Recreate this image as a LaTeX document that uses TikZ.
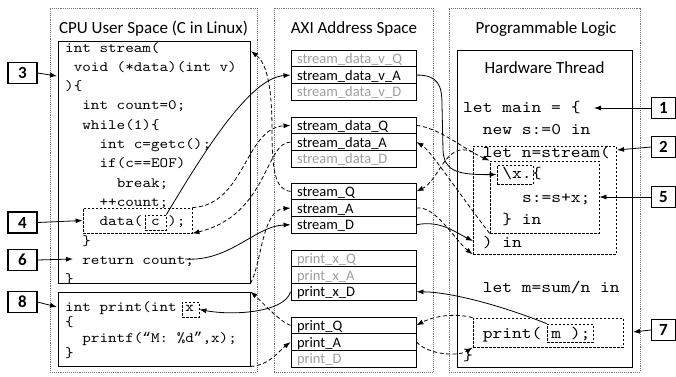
\documentclass[tikz,border=0pt]{standalone}
\usepackage{fontspec}
\setmainfont{Carlito}
\setsansfont{Carlito}
\setmonofont{lmmono10-regular.otf}[FakeStretch=1.143]
\newfontfamily\quotefont{Liberation Mono}
\usetikzlibrary{arrows.meta}
\definecolor{txtgray}{gray}{0.62}
\definecolor{framegray}{gray}{0.45}
\begin{document}
\begin{tikzpicture}[x=1pt,y=-1pt,
  panel/.style={draw=framegray, densely dotted, line width=0.9pt, inner sep=0pt, minimum height=364pt},
  solidbox/.style={draw, line width=1pt, inner sep=0pt},
  dbox/.style={draw, dash pattern=on 2.5pt off 1.5pt, line width=0.8pt, inner sep=0pt},
  row/.style={draw, line width=0.9pt, minimum width=125pt, minimum height=16.7pt, text width=113pt,
              inner xsep=6pt, inner ysep=0pt, text height=13pt, text depth=3pt, align=left,
              font=\fontsize{14.5}{16}\selectfont},
  grayrow/.style={row, text=txtgray},
  code/.style={font=\ttfamily\fontsize{14.3}{17}\selectfont, inner sep=0pt, anchor=base west},
  hcode/.style={font=\ttfamily\fontsize{16.3}{19}\selectfont, inner sep=0pt, anchor=base west},
  title/.style={font=\fontsize{17}{20}\selectfont, anchor=base, inner sep=0pt},
  numbox/.style={draw, line width=1.1pt, minimum height=21pt, inner sep=0pt,
                 font=\bfseries\fontsize{17}{20}\selectfont},
  conn/.style={line width=0.8pt, -{Latex[length=7pt,width=5pt]}},
  dconn/.style={conn, dash pattern=on 4pt off 2.5pt}
]
\useasboundingbox (0,0) rectangle (676,376);

% panels
\node[panel, minimum width=207pt] (cpu) at (153.5,190) {};
\node[panel, minimum width=159pt] (axi) at (353.5,190) {};
\node[panel, minimum width=191pt] (pl) at (544.5,190) {};
\node[title] (cputitle) at (153.5,33) {CPU User Space (C in Linux)};
\node[title] (axititle) at (354,33) {AXI Address Space};
\node[title] (pltitle) at (546,33) {Programmable Logic};

% CPU boxes
\node[solidbox, minimum width=192pt, minimum height=242pt] (stream) at (154,162) {};
\node[solidbox, minimum width=192pt, minimum height=74pt] (print) at (154,329) {};

\begin{scope}
\clip (58,41) rectangle (250,283);
\node[code] (s0) at (65,52) {int stream(};
\node[code] (s1) at (73.6,71.3) {void (*data)(int v)};
\node[code] (s2) at (65,90.6) {)\{};
\node[code] (s3) at (82.2,109.9) {int count=0;};
\node[code] (s4) at (82.2,129.2) {while(1)\{};
\node[code] (s5) at (99.4,148.5) {int c=getc();};
\node[code] (s6) at (99.4,167.8) {if(c==EOF)};
\node[code] (s7) at (116.6,187.1) {break;};
\node[code] (s8) at (99.4,206.4) {++count;};
\node[code] (s9) at (99.4,225.7) {data( c );};
\node[code] (s10) at (82.2,245) {\}};
\node[code] (s11) at (82.2,264.3) {return count;};
\node[code] (s12) at (65,283.6) {\}};
\end{scope}
\node[dbox, minimum width=109pt, minimum height=25pt] (databox) at (137.5,220.5) {};
\node[dbox, minimum width=21pt, minimum height=15pt] (cbox) at (155.5,222.5) {};

\node[code] (p0) at (65,311) {int print(int x};
\node[code] (p1) at (65,326.5) {\{};
\node[code] (p2) at (82.2,342) {printf({\quotefont “}M: \%d{\quotefont ”},x);};
\node[code] (p3) at (65,357.5) {\}};
\node[dbox, minimum width=17pt, minimum height=15pt] (xbox) at (190.5,309.5) {};

% AXI rows
\node[grayrow] (sdvQ) at (353.5,58.35) {stream\_data\_v\_Q};
\node[row] (sdvA) at (353.5,75.05) {stream\_data\_v\_A};
\node[grayrow] (sdvD) at (353.5,91.75) {stream\_data\_v\_D};
\node[row] (sdQ) at (353.5,125.35) {stream\_data\_Q};
\node[row] (sdA) at (353.5,142.05) {stream\_data\_A};
\node[grayrow] (sdD) at (353.5,158.75) {stream\_data\_D};
\node[row] (sQ) at (353.5,191.35) {stream\_Q};
\node[row] (sA) at (353.5,208.05) {stream\_A};
\node[row] (sD) at (353.5,224.75) {stream\_D};
\node[grayrow] (pxQ) at (353.5,258.35) {print\_x\_Q};
\node[grayrow] (pxA) at (353.5,275.05) {print\_x\_A};
\node[row] (pxD) at (353.5,291.75) {print\_x\_D};
\node[row] (pQ) at (353.5,325.35) {print\_Q};
\node[row] (pA) at (353.5,342.05) {print\_A};
\node[grayrow] (pD) at (353.5,358.75) {print\_D};

% Hardware thread
\node[solidbox, minimum width=175pt, minimum height=317pt] (hw) at (544.5,208.5) {};
\node[title] (hwtitle) at (544.5,73) {Hardware Thread};
\node[hcode] (h0) at (463,112) {let main = \{};
\node[hcode] (h1) at (482.6,134) {new s:=0 in};
\node[hcode] (h2) at (482.6,157) {let n=stream(};
\node[hcode] (h3) at (502.2,178) {\textbackslash x.\{};
\node[hcode] (h4) at (521.8,202) {s:=s+x;};
\node[hcode] (h5) at (502.2,224) {\} in};
\node[hcode] (h6) at (482.6,247) {) in};
\node[hcode] (h7) at (482.6,292) {let m=sum/n in};
\node[hcode] (h8) at (482.6,338) {print( m );};
\node[hcode] (h9) at (463,360) {\}};
\node[dbox, minimum width=143pt, minimum height=108pt] (callbox) at (544.5,200) {};
\node[dbox, minimum width=109pt, minimum height=72pt] (lam) at (544.5,197) {};
\node[dbox, minimum width=36pt, minimum height=19pt] (xlam) at (515,174.5) {};
\node[dbox, minimum width=150pt, minimum height=29pt] (printbox) at (548,332.5) {};
\node[dbox, minimum width=46pt, minimum height=18pt] (mbox) at (570,333) {};

% numbered boxes
\node[numbox, minimum width=29pt] (n3) at (22.5,73) {3};
\node[numbox, minimum width=29pt] (n4) at (22.5,222.5) {4};
\node[numbox, minimum width=29pt] (n6) at (22.5,260) {6};
\node[numbox, minimum width=29pt] (n8) at (22.5,302) {8};
\node[numbox, minimum width=24pt] (n1) at (663.5,108) {1};
\node[numbox, minimum width=24pt] (n2) at (663.5,147) {2};
\node[numbox, minimum width=24pt] (n5) at (663.5,197) {5};
\node[numbox, minimum width=24pt] (n7) at (663.5,330) {7};

% free ends
\coordinate (t3) at (57,76);
\coordinate (t6) at (73,259);
\coordinate (t8) at (57,307);
\coordinate (t1) at (594,108);
\coordinate (t2) at (617,150);
\coordinate (t7) at (633,332);
\coordinate (sTR) at (251,51);
\coordinate (retE) at (185,259);
\coordinate (callL) at (473,152);
\coordinate (inL) at (473,241);

% number arrows
\draw[conn] (n3.east) -- (t3);
\draw[conn] (n4.east) -- (databox.west);
\draw[conn] (n6.east) -- (t6);
\draw[conn] (n8.east) -- (t8);
\draw[conn] (n1.west) -- (t1);
\draw[conn] (n2.west) -- (t2);
\draw[conn] (n5.west) -- (lam.east);
\draw[conn] (n7.west) -- (t7);

% CPU <-> AXI
\draw[conn] (cbox.north east) .. controls (205,150) and (250,78) .. (sdvA.west);
\draw[dconn] (sQ.west) .. controls (275,190) and (272,170) .. (272,130) .. controls (272,80) and (265,62) .. (sTR);
\draw[conn] (retE) .. controls (230,262) and (255,226) .. (sD.west);
\draw[dconn] (stream.south east) .. controls (262,262) and (262,210) .. (sA.west);
\draw[dconn] (databox.north east) .. controls (245,205) and (245,128) .. (sdQ.west);
\draw[dconn] (sdA.west) .. controls (265,142) and (268,215) .. (databox.south east);
\draw[conn] (pxD.west) .. controls (285,312) and (235,316) .. (xbox.east);
\draw[dconn] (pQ.west) .. controls (280,322) and (260,300) .. (print.north east);
\draw[dconn] (print.south east) .. controls (270,365) and (280,350) .. (pA.west);

% AXI <-> PL
\draw[conn] (sdvA.east) .. controls (438,75) and (442,85) .. (442,105) -- (443,150) .. controls (444,170) and (455,175) .. (xlam.west);
\draw[dconn] (sdQ.east) .. controls (440,128) and (465,150) .. (lam.north west);
\draw[dconn] (lam.south west) .. controls (460,195) and (430,150) .. (sdA.east);
\draw[dconn] (callL) .. controls (445,140) and (440,180) .. (sQ.east);
\draw[dconn] (sA.east) .. controls (435,205) and (455,240) .. (callbox.south west);
\draw[conn] (sD.east) .. controls (440,220) and (455,232) .. (inL);
\draw[conn] (mbox.north west) .. controls (500,305) and (450,292) .. (pxD.east);
\draw[dconn] (printbox.north west) .. controls (450,312) and (430,318) .. (pQ.east);
\draw[dconn] (pA.east) .. controls (430,356) and (460,356) .. (printbox.south west);
\end{tikzpicture}
\end{document}
